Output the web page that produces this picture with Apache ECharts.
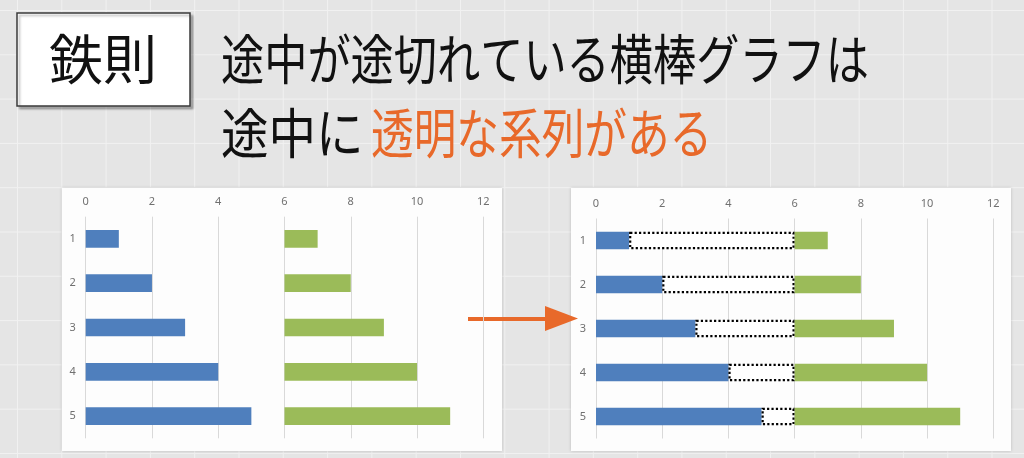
<!DOCTYPE html>
<html>
  <head>
    <meta charset="utf-8" />
    <title>途中が途切れている横棒グラフ</title>
    <script type="text/javascript" src="https://cdn.jsdelivr.net/npm/echarts@6.0.0/dist/echarts.min.js"></script>
    <style>
      html, body { margin: 0; padding: 0; }
      body {
        width: 1024px; height: 458px; overflow: hidden;
        background-color: #e5e5e5;
        background-image: linear-gradient(to right, #f1f1f1 1px, transparent 1px),
                          linear-gradient(to bottom, #f1f1f1 1px, transparent 1px);
        background-size: 44.3px 44.3px;
        background-position: 17px 10px;
      }
      #main { width: 1024px; height: 458px; }
    </style>
  </head>
  <body>
    <div id="main"></div>
    <script type="text/javascript">
      var chart = echarts.init(document.getElementById('main'));

      // データ
      var categories = ['1', '2', '3', '4', '5'];
      var blueValues = [1, 2, 3, 4, 5];
      var gapValues = [5, 4, 3, 2, 1];      // 透明な系列
      var greenValues = [1, 2, 3, 4, 5];
      var xTicks = [0, 2, 4, 6, 8, 10, 12];

      var BLUE = '#4f7fbd';
      var GREEN = '#9bbb59';
      var ORANGE = '#e8692a';
      var LABEL = '#707070';
      var FONT = '"Noto Sans CJK JP", "Noto Sans", sans-serif';

      function makeXAxis(idx) {
        return {
          type: 'value',
          gridIndex: idx,
          position: 'top',
          min: xTicks[0],
          max: xTicks[xTicks.length - 1],
          interval: xTicks[1] - xTicks[0],
          axisLine: { show: false },
          axisTick: { show: false },
          axisLabel: { color: LABEL, fontSize: 11, margin: 9, fontFamily: 'Noto Sans' },
          splitLine: { show: true, lineStyle: { color: '#d9d9d9', width: 1 } }
        };
      }

      function makeYAxis(idx) {
        return {
          type: 'category',
          gridIndex: idx,
          inverse: true,
          data: categories,
          axisLine: { show: false },
          axisTick: { show: false },
          axisLabel: { color: LABEL, fontSize: 11, margin: 10, fontFamily: 'Noto Sans' },
          splitLine: { show: false }
        };
      }

      function makeSeries(idx, gapStyle) {
        var stack = 's' + idx;
        return [{
          type: 'bar', xAxisIndex: idx, yAxisIndex: idx, stack: stack,
          barWidth: '40%', data: blueValues,
          itemStyle: { color: BLUE }
        }, {
          type: 'bar', xAxisIndex: idx, yAxisIndex: idx, stack: stack,
          barWidth: '40%', data: gapValues,
          itemStyle: gapStyle
        }, {
          type: 'bar', xAxisIndex: idx, yAxisIndex: idx, stack: stack,
          barWidth: '40%', data: greenValues,
          itemStyle: { color: GREEN }
        }];
      }

      var option = {
        animation: false,
        textStyle: { fontFamily: FONT },
        grid: [
          { left: 85.7, top: 216.7, width: 397.6, height: 221.6, outerBoundsMode: 'none' },
          { left: 596, top: 218.5, width: 397.3, height: 220, outerBoundsMode: 'none' }
        ],
        xAxis: [makeXAxis(0), makeXAxis(1)],
        yAxis: [makeYAxis(0), makeYAxis(1)],
        series: makeSeries(0, { color: 'transparent' })
          .concat(makeSeries(1, { color: '#ffffff', borderColor: '#000000', borderType: 'dotted', borderWidth: 2.2 })),
        graphic: [
          // グラフの白い背景
          { type: 'rect', z: -10, shape: { x: 62, y: 188, width: 440, height: 263 },
            style: { fill: '#fdfdfd', shadowBlur: 3, shadowColor: 'rgba(0,0,0,0.18)' } },
          { type: 'rect', z: -10, shape: { x: 571, y: 188, width: 440, height: 263 },
            style: { fill: '#fdfdfd', shadowBlur: 3, shadowColor: 'rgba(0,0,0,0.18)' } },
          // 見出しボックス
          { type: 'rect', shape: { x: 17, y: 13, width: 173, height: 93 },
            style: { fill: '#ffffff', stroke: '#3a3a3a', lineWidth: 1.5,
                     shadowOffsetX: 2.5, shadowOffsetY: 2.5, shadowBlur: 2, shadowColor: 'rgba(0,0,0,0.25)' } },
          { type: 'text', x: 103, y: 59,
            style: { text: '鉄則', font: '54px ' + FONT, fill: '#111111',
                     textAlign: 'center', textVerticalAlign: 'middle' } },
          // タイトル
          { type: 'text', x: 221, y: 59, scaleX: 0.80,
            style: { text: '途中が途切れている横棒グラフは', font: '54px ' + FONT, fill: '#111111',
                     textAlign: 'left', textVerticalAlign: 'middle' } },
          { type: 'text', x: 221, y: 133, scaleX: 0.88,
            style: { text: '途中に', font: '54px ' + FONT, fill: '#111111',
                     textAlign: 'left', textVerticalAlign: 'middle' } },
          { type: 'text', x: 371, y: 133, scaleX: 0.79,
            style: { text: '透明な系列がある', font: '54px ' + FONT, fill: ORANGE,
                     textAlign: 'left', textVerticalAlign: 'middle' } },
          // 矢印
          { type: 'line', shape: { x1: 468, y1: 319, x2: 550, y2: 319 },
            style: { stroke: ORANGE, lineWidth: 4 } },
          { type: 'polygon', shape: { points: [[545, 306], [578, 318.5], [545, 331]] },
            style: { fill: ORANGE } }
        ]
      };

      chart.setOption(option);
    </script>
  </body>
</html>
